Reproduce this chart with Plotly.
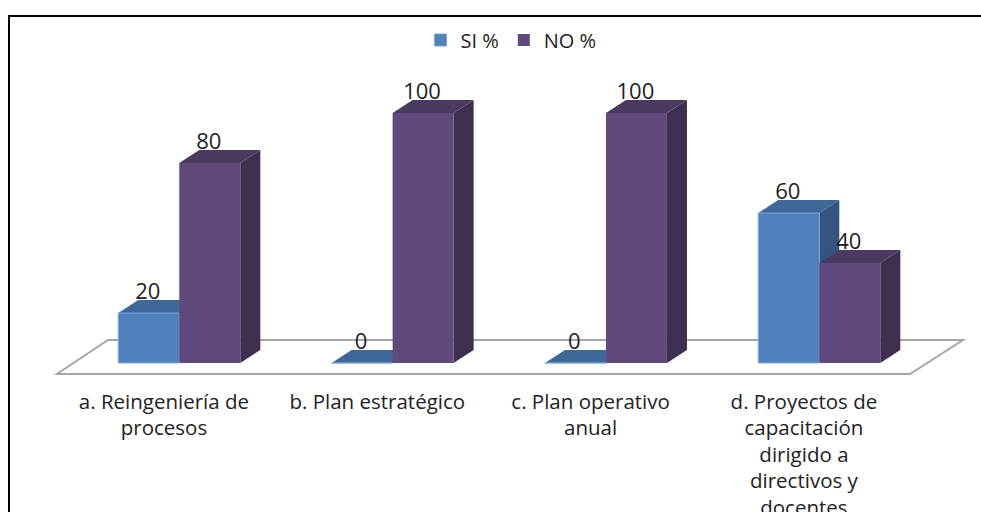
import plotly.graph_objects as go

categories = ["a. Reingeniería de<br>procesos", "b. Plan estratégico",
              "c. Plan operativo<br>anual",
              "d. Proyectos de<br>capacitación<br>dirigido a<br>directivos y<br>docentes"]
si_values = [20, 0, 0, 60]
no_values = [80, 100, 100, 40]
group_positions = [0, 1, 2, 3]

W, H = 981, 512
PX_PER_GROUP = 213.33
PX_PER_VALUE = 2.5
X0_PX = 179.3
Y0_PX = 363
AXIS_BOTTOM_PX = 387
BAR_W = 61 / PX_PER_GROUP
DX = 20 / PX_PER_GROUP
DY = 13 / PX_PER_VALUE
FONT = "Open Sans"


def xv(px):
    return (px - X0_PX) / PX_PER_GROUP


def yv(py):
    return (Y0_PX - py) / PX_PER_VALUE


def fx(px):
    return px / W


def fy(py):
    return 1 - py / H


def poly(pts, fill, line_color=None, line_width=0):
    path = "M " + " L ".join(f"{x},{y}" for x, y in pts) + " Z"
    return dict(type="path", path=path, xref="x", yref="y", fillcolor=fill, layer="below",
                line=dict(color=line_color or fill, width=line_width))


shapes = [poly([(xv(57), yv(374)), (xv(910), yv(374)), (xv(963), yv(340)), (xv(108), yv(340))],
               "#FFFFFF", "#A6A6A6", 2)]

series = [(si_values, -BAR_W, "#3F6797", "#34557F"),
          (no_values, 0, "#4B3A5F", "#3E2E50")]
for values, off, top, side in series:
    for pos, v in zip(group_positions, values):
        l, r = pos + off, pos + off + BAR_W
        shapes.append(poly([(r, 0), (r + DX, DY), (r + DX, v + DY), (r, v)], side))
        shapes.append(poly([(l, v), (r, v), (r + DX, v + DY), (l + DX, v + DY)], top))

fig = go.Figure()
fig.add_bar(name="SI %", x=group_positions, y=si_values,
            marker=dict(color="#4F81BD", line=dict(width=1, color="#7FA6D6")))
fig.add_bar(name="NO %", x=group_positions, y=no_values,
            marker=dict(color="#604A7B", line=dict(width=0)))
label_font = dict(family=FONT, size=22, color="#222222")
fig.add_scatter(x=[p - BAR_W / 2 - 0.005 for p in group_positions], y=[v + 3.6 for v in si_values],
                mode="text", text=si_values, textposition="top center", textfont=label_font,
                showlegend=False, hoverinfo="skip")
fig.add_scatter(x=[p + BAR_W / 2 - 0.005 for p in group_positions], y=[v + 3.6 for v in no_values],
                mode="text", text=no_values, textposition="top center", textfont=label_font,
                showlegend=False, hoverinfo="skip")

shapes.append(dict(type="path", path=f"M {fx(9)},0 L {fx(9)},{fy(16)} L 1,{fy(16)}",
                   xref="paper", yref="paper", line=dict(color="black", width=2)))

fig.update_layout(
    width=W, height=H, margin=dict(l=0, r=0, t=0, b=0, autoexpand=False),
    paper_bgcolor="white", plot_bgcolor="rgba(0,0,0,0)",
    barmode="group", bargap=1 - 2 * BAR_W, bargroupgap=0,
    shapes=shapes,
    legend=dict(orientation="h", x=fx(511), xanchor="center", y=fy(40), yanchor="middle",
                font=dict(family=FONT, size=20, color="#222222"), bgcolor="rgba(0,0,0,0)"),
    xaxis=dict(range=[xv(0), xv(W)], tickmode="array",
               tickvals=[p - 0.072 for p in group_positions],
               ticktext=categories, showgrid=False, zeroline=False, showline=False, ticks="",
               tickangle=0, tickfont=dict(family=FONT, size=20.5, color="#222222"), automargin=False),
    yaxis=dict(domain=[fy(AXIS_BOTTOM_PX), 1], range=[yv(AXIS_BOTTOM_PX), yv(0)],
               showgrid=False, zeroline=False, showline=False, showticklabels=False, ticks=""),
)
fig.write_html("out.html", config={"displayModeBar": False},
               post_script="document.body.style.margin='0';")
